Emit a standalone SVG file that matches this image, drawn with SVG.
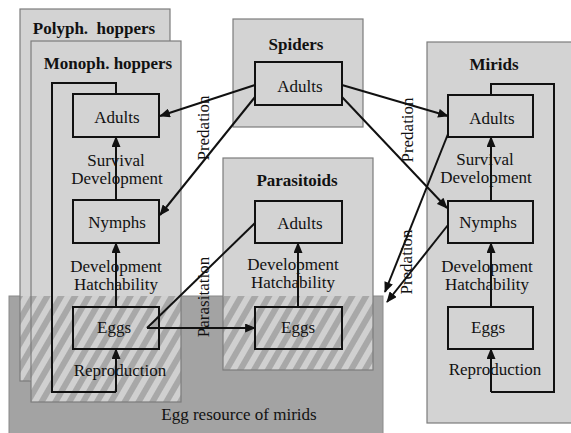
<svg xmlns="http://www.w3.org/2000/svg" width="571" height="433" viewBox="0 0 571 433">
<style>
.cont{fill:#d3d3d3;stroke:none}
.bord{fill:none;stroke:#7c7c7c;stroke-width:1.2}
.hatch{fill:url(#hatch)}
.box{fill:none;stroke:#111;stroke-width:2}
.t{font-family:'Liberation Serif','DejaVu Serif','Noto Serif',serif;font-size:17px;fill:#111;text-anchor:middle}
.b{font-weight:bold}
.ln{fill:none;stroke:#111;stroke-width:2}
.ar{fill:none;stroke:#111;stroke-width:2;marker-end:url(#ah)}
</style>
<defs>
<pattern id="hatch" width="12" height="12" patternUnits="userSpaceOnUse" patternTransform="rotate(30)">
<rect width="12" height="12" fill="#a8a8a8"/>
<rect width="6" height="12" fill="#d0d0d0"/>
</pattern>
<marker id="ah" viewBox="0 0 12 10" refX="11" refY="5" markerWidth="11" markerHeight="9" markerUnits="userSpaceOnUse" orient="auto">
<path d="M0,0 L12,5 L0,10 Z" fill="#111"/>
</marker>
</defs>
<rect width="571" height="433" fill="#ffffff"/>

<g id="egg-resource">
<rect x="9" y="296" width="374" height="140" fill="#a3a3a3" stroke="#8a8a8a" stroke-width="1"/>
<text class="t" x="239" y="420" font-family="Liberation Serif, serif">Egg resource of mirids</text>
</g>

<g id="polyph-hoppers">
<rect class="cont" x="20" y="9" width="150" height="372"/>
<rect class="hatch" x="20" y="296" width="150" height="85"/>
<rect class="bord" x="20" y="9" width="150" height="372"/>
<text class="t b" x="94" y="34" xml:space="preserve">Polyph.  hoppers</text>
</g>

<g id="monoph-hoppers">
<rect class="cont" x="31" y="41" width="150" height="361"/>
<rect class="hatch" x="31" y="296" width="150" height="106"/>
<rect class="bord" x="31" y="41" width="150" height="361"/>
<text class="t b" x="108" y="69">Monoph. hoppers</text>
</g>

<g id="spiders">
<rect class="cont" x="233" y="19" width="130" height="108"/>
<rect class="bord" x="233" y="19" width="130" height="108"/>
<text class="t b" x="296" y="50">Spiders</text>
</g>

<g id="parasitoids">
<rect class="cont" x="223" y="158" width="150" height="212"/>
<rect class="hatch" x="223" y="296" width="150" height="74"/>
<rect class="bord" x="223" y="158" width="150" height="212"/>
<text class="t b" x="297" y="186">Parasitoids</text>
</g>

<g id="mirids">
<rect class="cont" x="427" y="42" width="150" height="381"/>
<rect class="bord" x="427" y="42" width="150" height="381"/>
<text class="t b" x="494" y="70">Mirids</text>
</g>

<g id="hopper-adults"><rect class="box" x="73" y="94" width="86" height="43"/><text class="t" x="117" y="123">Adults</text></g>
<g id="hopper-nymphs"><rect class="box" x="73" y="200" width="86" height="43"/><text class="t" x="117" y="228">Nymphs</text></g>
<g id="hopper-eggs"><rect class="box" x="73" y="307" width="86" height="42"/><text class="t" x="114" y="333">Eggs</text></g>

<g id="spider-adults"><rect class="box" x="255" y="62" width="87" height="43"/><text class="t" x="300" y="92">Adults</text></g>

<g id="parasitoid-adults"><rect class="box" x="255" y="201" width="87" height="42"/><text class="t" x="300" y="229">Adults</text></g>
<g id="parasitoid-eggs"><rect class="box" x="255" y="307" width="87" height="42"/><text class="t" x="298" y="333">Eggs</text></g>

<g id="mirid-adults"><rect class="box" x="448" y="95" width="85" height="42"/><text class="t" x="492" y="124">Adults</text></g>
<g id="mirid-nymphs"><rect class="box" x="448" y="201" width="85" height="42"/><text class="t" x="488" y="228">Nymphs</text></g>
<g id="mirid-eggs"><rect class="box" x="448" y="307" width="85" height="42"/><text class="t" x="488" y="333">Eggs</text></g>

<g id="connectors">
<path class="ln" d="M116,94 V83 H52 V392 H116"/>
<path class="ar" d="M116,392 V349"/>
<path class="ar" d="M116,307 V243"/>
<path class="ar" d="M116,200 V137"/>
<path class="ar" d="M298,307 V243"/>
<path class="ln" d="M491,95 V84 H554 V392 H491"/>
<path class="ar" d="M491,392 V349"/>
<path class="ar" d="M491,307 V243"/>
<path class="ar" d="M491,201 V137"/>
<path class="ar" d="M255,85 L160,116"/>
<path class="ar" d="M255,97 L160,215"/>
<path class="ar" d="M342,85 L448,116"/>
<path class="ar" d="M342,97 L447,208"/>
<path class="ar" d="M448,134 L385,292"/>
<path class="ar" d="M448,225 L387,302"/>
<path class="ln" d="M255,223 L147,328"/>
<path class="ar" d="M147,328 H255"/>
</g>

<g id="labels">
<text class="t" x="116" y="166">Survival</text>
<text class="t" x="117" y="184">Development</text>
<text class="t" x="116" y="272">Development</text>
<text class="t" x="116" y="290">Hatchability</text>
<text class="t" x="120" y="376">Reproduction</text>
<text class="t" x="293" y="270">Development</text>
<text class="t" x="293" y="288">Hatchability</text>
<text class="t" x="485" y="165">Survival</text>
<text class="t" x="486" y="183">Development</text>
<text class="t" x="487" y="272">Development</text>
<text class="t" x="487" y="290">Hatchability</text>
<text class="t" x="495" y="375">Reproduction</text>
<text class="t" transform="translate(209,128) rotate(-90)">Predation</text>
<text class="t" transform="translate(413,130) rotate(-90)">Predation</text>
<text class="t" transform="translate(412,262) rotate(-90)">Predation</text>
<text class="t" transform="translate(209,297) rotate(-90)">Parasitation</text>
</g>
</svg>
